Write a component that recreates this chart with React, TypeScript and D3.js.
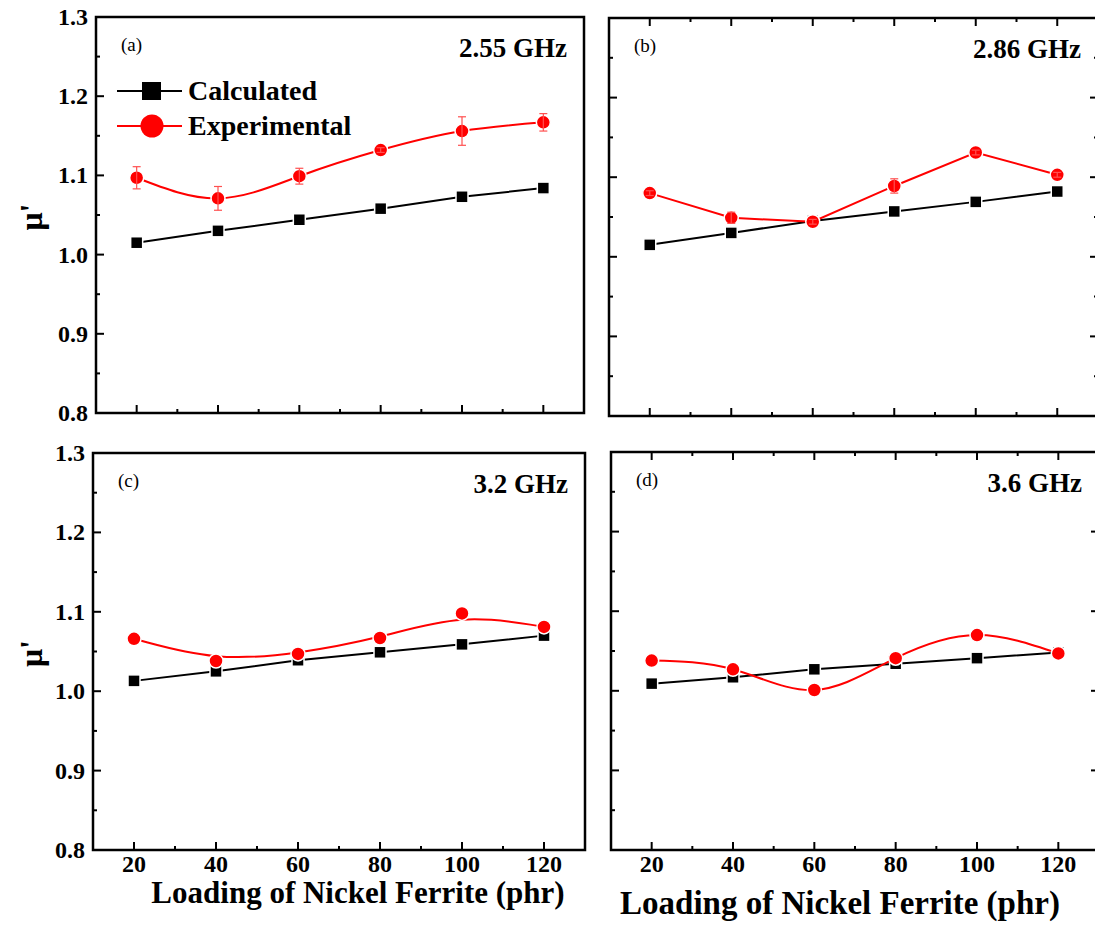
import React from "react";
import * as d3 from "d3";

const W = 1095;
const H = 946;

// data
const loading = [20, 40, 60, 80, 100, 120];

const calcA = [1.015, 1.030, 1.044, 1.058, 1.073, 1.084];
const expA = [1.097, 1.071, 1.099, 1.132, 1.156, 1.167];
const errA = [0.014, 0.015, 0.010, 0.003, 0.018, 0.011];

const calcB = [1.015, 1.030, 1.045, 1.057, 1.069, 1.082];
const expB = [1.080, 1.049, 1.044, 1.089, 1.131, 1.103];
const errB = [0.003, 0.007, 0.003, 0.009, 0.003, 0.003];

const calcC = [1.013, 1.025, 1.039, 1.049, 1.059, 1.070];
const expC = [1.066, 1.038, 1.047, 1.067, 1.098, 1.081];
const errC = [0, 0, 0, 0, 0, 0];

const calcD = [1.009, 1.017, 1.027, 1.034, 1.041, 1.048];
const expD = [1.038, 1.027, 1.001, 1.041, 1.070, 1.047];
const errD = [0, 0, 0, 0, 0, 0];

const yTicks = [0.8, 0.9, 1.0, 1.1, 1.2, 1.3];
const xTicks = [20, 40, 60, 80, 100, 120];
const freqs = ["2.55 GHz", "2.86 GHz", "3.2 GHz", "3.6 GHz"];
const tags = ["(a)", "(b)", "(c)", "(d)"];
const xTitle = "Loading of Nickel Ferrite (phr)";
const yTitle = "\u03bc'";

const font = "Liberation Serif, Times New Roman, serif";

type Layout = {
  left: number; right: number; top: number; bottom: number;
  yLabels: boolean; xLabels: boolean; farTicks: boolean;
  curve: d3.CurveFactory; legend: boolean;
};

const layouts: Layout[] = [
  { left: 96, right: 584, top: 17, bottom: 413, yLabels: true, xLabels: false, farTicks: false, curve: d3.curveNatural, legend: true },
  { left: 609, right: 1098, top: 18, bottom: 416, yLabels: false, xLabels: false, farTicks: true, curve: d3.curveLinear, legend: false },
  { left: 93, right: 585, top: 453, bottom: 850, yLabels: true, xLabels: true, farTicks: false, curve: d3.curveBasis, legend: false },
  { left: 611, right: 1099, top: 452, bottom: 850, yLabels: false, xLabels: true, farTicks: true, curve: d3.curveNatural, legend: false },
];

const series = [
  { calc: calcA, exp: expA, err: errA },
  { calc: calcB, exp: expB, err: errB },
  { calc: calcC, exp: expC, err: errC },
  { calc: calcD, exp: expD, err: errD },
];

const Panel = ({ i }: { i: number }) => {
  const L = layouts[i];
  const s = series[i];
  const x = d3.scaleLinear().domain([10, 130]).range([L.left, L.right]);
  const y = d3.scaleLinear().domain([0.8, 1.3]).range([L.bottom, L.top]);
  const xMinor = d3.range(30, 130, 20);
  const yMinor = d3.range(0.85, 1.3, 0.1);

  const lineCalc = d3.line<number>().x((_, k) => x(loading[k])).y(d => y(d));
  const lineExp = d3.line<number>().x((_, k) => x(loading[k])).y(d => y(d)).curve(L.curve);

  const maj = 8;
  const min = 4;

  return (
    <g>
      {/* y ticks */}
      {yTicks.map(t => (
        <g key={"y" + t}>
          <line x1={L.left} x2={L.left + maj} y1={y(t)} y2={y(t)} stroke="#000" strokeWidth={2} />
          {L.farTicks && <line x1={L.right} x2={L.right - maj} y1={y(t)} y2={y(t)} stroke="#000" strokeWidth={2} />}
          {L.yLabels && (
            <text x={L.left - 8} y={y(t) + 8} textAnchor="end" fontSize={24} fontWeight="bold" fontFamily={font}>
              {t.toFixed(1)}
            </text>
          )}
        </g>
      ))}
      {yMinor.map(t => (
        <g key={"ym" + t}>
          <line x1={L.left} x2={L.left + min} y1={y(t)} y2={y(t)} stroke="#000" strokeWidth={2} />
          {L.farTicks && <line x1={L.right} x2={L.right - min} y1={y(t)} y2={y(t)} stroke="#000" strokeWidth={2} />}
        </g>
      ))}
      {/* x ticks */}
      {xTicks.map(t => (
        <g key={"x" + t}>
          <line x1={x(t)} x2={x(t)} y1={L.bottom} y2={L.bottom - maj} stroke="#000" strokeWidth={2} />
          {L.farTicks && <line x1={x(t)} x2={x(t)} y1={L.top} y2={L.top + maj} stroke="#000" strokeWidth={2} />}
          {L.xLabels && (
            <text x={x(t)} y={L.bottom + 22} textAnchor="middle" fontSize={24} fontWeight="bold" fontFamily={font}>
              {t}
            </text>
          )}
        </g>
      ))}
      {xMinor.map(t => (
        <g key={"xm" + t}>
          <line x1={x(t)} x2={x(t)} y1={L.bottom} y2={L.bottom - min} stroke="#000" strokeWidth={2} />
          {L.farTicks && <line x1={x(t)} x2={x(t)} y1={L.top} y2={L.top + min} stroke="#000" strokeWidth={2} />}
        </g>
      ))}
      {/* frame */}
      <rect x={L.left} y={L.top} width={L.right - L.left} height={L.bottom - L.top} fill="none" stroke="#000" strokeWidth={2.5} />

      {/* calculated */}
      <path d={lineCalc(s.calc) || ""} fill="none" stroke="#000" strokeWidth={2} />
      {s.calc.map((v, k) => (
        <rect key={"c" + k} x={x(loading[k]) - 6} y={y(v) - 6} width={12} height={12} fill="#000" stroke="#fff" strokeWidth={1.5} />
      ))}

      {/* experimental */}
      <path d={lineExp(s.exp) || ""} fill="none" stroke="#ff0000" strokeWidth={2} />
      {s.exp.map((v, k) => {
        const e = s.err[k];
        const cx = x(loading[k]);
        return (
          <g key={"e" + k}>
            <circle cx={cx} cy={y(v)} r={7} fill="#ff0000" stroke="#fff" strokeWidth={1.5} />
            {e > 0 && (
              <g stroke="#ff5050" strokeWidth={1.2}>
                <line x1={cx} x2={cx} y1={y(v + e)} y2={y(v - e)} />
                <line x1={cx - 4} x2={cx + 4} y1={y(v + e)} y2={y(v + e)} />
                <line x1={cx - 4} x2={cx + 4} y1={y(v - e)} y2={y(v - e)} />
              </g>
            )}
          </g>
        );
      })}

      {/* annotations */}
      <text x={L.left + 25} y={L.top + 34} fontSize={19} fontFamily={font}>{tags[i]}</text>
      <text x={L.right - 17} y={L.top + 40} textAnchor="end" fontSize={27} fontWeight="bold" fontFamily={font}>{freqs[i]}</text>

      {L.legend && (
        <g>
          <line x1={117} x2={182} y1={91} y2={91} stroke="#000" strokeWidth={2} />
          <rect x={142} y={82} width={19} height={18} fill="#000" />
          <text x={188} y={100} fontSize={28} fontWeight="bold" fontFamily={font}>Calculated</text>
          <line x1={117} x2={182} y1={126} y2={126} stroke="#ff0000" strokeWidth={2} />
          <circle cx={152} cy={126} r={11.5} fill="#ff0000" />
          <text x={188} y={135} fontSize={28} fontWeight="bold" fontFamily={font}>Experimental</text>
        </g>
      )}

      {L.yLabels && (
        <text transform={`translate(42,${(L.top + L.bottom) / 2 + 2}) rotate(-90)`} textAnchor="middle" fontSize={32} fontWeight="bold" fontFamily={font}>
          {yTitle}
        </text>
      )}
      {L.xLabels && (
        <text x={i === 2 ? 358 : 840} y={i === 2 ? 903 : 914} textAnchor="middle" fontSize={i === 2 ? 31 : 33} fontWeight="bold" fontFamily={font}>
          {xTitle}
        </text>
      )}
    </g>
  );
};

export default function App() {
  return (
    <svg width={W} height={H} style={{ position: "absolute", left: 0, top: 0, background: "#fff" }}>
      <rect width={W} height={H} fill="#fff" />
      {layouts.map((_, i) => <Panel key={i} i={i} />)}
    </svg>
  );
}
